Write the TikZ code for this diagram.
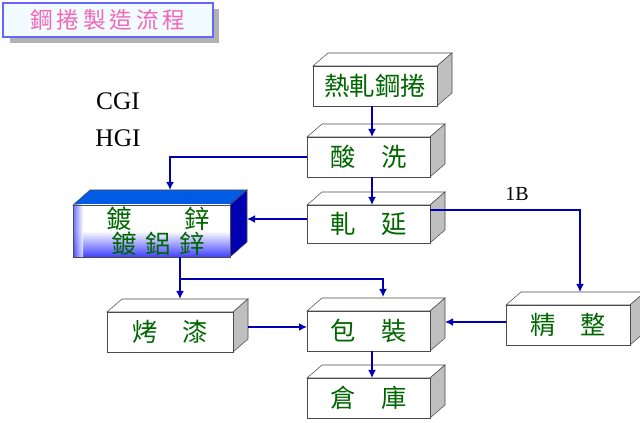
\documentclass[tikz,border=0pt]{standalone}
\usepackage{fontspec}
\setmainfont{Liberation Serif}
\newfontfamily\cjk{Noto Sans CJK TC}
\usetikzlibrary{arrows.meta}
\begin{document}
\begin{tikzpicture}[x=0.75pt,y=-0.75pt,
  ln/.style={draw=blue!70!black,line width=1.8pt,-{Latex[length=6pt,width=6pt]}},
  ct/.style={font=\cjk\fontsize{19}{22}\selectfont,text=green!40!black}]
\useasboundingbox (0,0) rectangle (640,423);
\fill[white] (0,0) rectangle (640,423);
\newcommand\mybox[9]{%
  \filldraw[fill=#8,draw=black!70] (#2,#3) -- ++(15,-13) -- (#4+15,#3-13) -- (#4,#3) -- cycle;
  \filldraw[fill=#9,draw=black!70] (#4,#3) -- (#4+15,#3-13) -- (#4+15,#5-13) -- (#4,#5) -- cycle;
  \path[#7,draw=black!70] (#2,#3) rectangle (#4,#5);
  \node[ct,inner sep=0pt] (#1) at ({(#2+#4)/2},{(#3+#5)/2}) {#6};
}
% title
\fill[black!30] (10,9) rectangle (219,43);
\filldraw[fill=cyan!5,draw=blue!60,line width=1.5pt] (3,3) rectangle (213,37);
\node[font=\cjk\fontsize{17}{20}\selectfont,text=magenta!60!white] (title) at (108,20) {鋼\,捲\,製\,造\,流\,程};
\node[font=\fontsize{19}{22}\selectfont] (cgi) at (118,101) {CGI};
\node[font=\fontsize{19}{22}\selectfont] (hgi) at (118,138) {HGI};
\mybox{hr}{313}{66}{437}{106}{熱軋鋼捲}{fill=white}{white}{black!25}
\mybox{sx}{307}{137}{430}{177}{酸\quad 洗}{fill=white}{white}{black!25}
\mybox{zy}{307}{205}{430}{243}{軋\quad 延}{fill=white}{white}{black!25}
\mybox{bz}{307}{311}{430}{351}{包\quad 裝}{fill=white}{white}{black!25}
\mybox{ck}{307}{378}{430}{418}{倉\quad 庫}{fill=white}{white}{black!25}
\mybox{jz}{506}{305}{630}{345}{精\quad 整}{fill=white}{white}{black!25}
\mybox{kq}{107}{312}{233}{352}{烤\quad 漆}{fill=white}{white}{black!25}
% galvanize box
\filldraw[fill=blue!60!cyan!90!black,draw=black!70] (73,205) -- (90,190) -- (247,190) -- (230,205) -- cycle;
\filldraw[fill=blue!70!black,draw=black!70] (230,205) -- (247,190) -- (247,242) -- (230,257) -- cycle;
\shade[top color=white,bottom color=blue!75,middle color=white] (73,205) rectangle (230,257);
\shade[left color=blue!70,right color=white,opacity=0.8] (73,205) rectangle (83,257);
\draw[black!70] (73,205) rectangle (230,257);
\node[ct] (dx1) at (119,219) {鍍};
\node[ct] (dx2) at (197,219) {鋅};
\node[ct] (dx3) at (158,244) {鍍\,\,鋁\,\,鋅};
\coordinate (dxn) at (170,190);
\coordinate (dxe) at (247,219);
\coordinate (dxs) at (180,257);
% connectors
\draw[ln] (372,106) -- (372,137);
\draw[ln] (372,177) -- (372,205);
\draw[ln] (307,157) -| (dxn);
\draw[ln] (307,219) -- (dxe);
\draw[ln] (430,210) -| (580,292);
\node[font=\fontsize{15}{18}\selectfont] (b1) at (517,194) {1B};
\draw[ln] (dxs) -- (180,299);
\draw[ln] (180,279) -| (383,297);
\draw[ln] (248,327) -- (307,327);
\draw[ln] (506,322) -- (445,322);
\draw[ln] (372,351) -- (372,378);
\end{tikzpicture}
\end{document}
